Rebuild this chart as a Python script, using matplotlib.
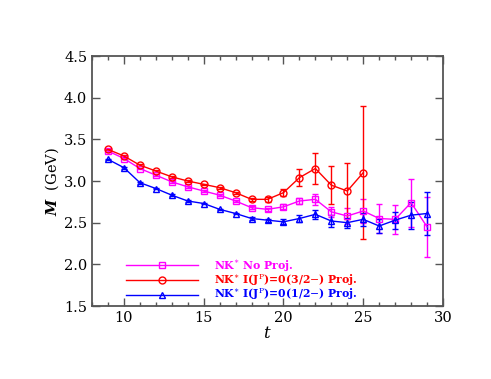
import numpy as np
import matplotlib.pyplot as plt
from matplotlib.ticker import MultipleLocator

t_nop = np.arange(9, 30)
m_nop = [3.36, 3.27, 3.15, 3.07, 2.99, 2.93, 2.88, 2.83, 2.76, 2.68, 2.66,
         2.69, 2.76, 2.78, 2.63, 2.58, 2.64, 2.55, 2.54, 2.74, 2.45]
e_nop = [0.01, 0.01, 0.01, 0.01, 0.01, 0.01, 0.01, 0.01, 0.01, 0.02, 0.02,
         0.03, 0.04, 0.07, 0.06, 0.10, 0.14, 0.17, 0.17, 0.29, 0.36]

t_32 = np.arange(9, 26)
m_32 = [3.38, 3.30, 3.19, 3.12, 3.05, 3.00, 2.96, 2.92, 2.86, 2.78, 2.78,
        2.86, 3.04, 3.15, 2.95, 2.88, 3.10]
e_32 = [0.01, 0.01, 0.01, 0.01, 0.01, 0.01, 0.01, 0.01, 0.01, 0.02, 0.03,
        0.04, 0.10, 0.19, 0.23, 0.34, 0.80]

t_12 = np.arange(9, 30)
m_12 = [3.26, 3.16, 2.98, 2.91, 2.83, 2.76, 2.73, 2.66, 2.61, 2.55, 2.53,
        2.51, 2.55, 2.60, 2.52, 2.50, 2.54, 2.46, 2.53, 2.59, 2.61]
e_12 = [0.01, 0.01, 0.01, 0.01, 0.01, 0.01, 0.01, 0.01, 0.01, 0.02, 0.02,
        0.03, 0.04, 0.05, 0.07, 0.06, 0.08, 0.08, 0.10, 0.16, 0.26]

labels = [r"NK$^{\ast}$ No Proj.",
          r"NK$^{\ast}$ I(J$^{\rm P}$)=0(3/2$-$) Proj.",
          r"NK$^{\ast}$ I(J$^{\rm P}$)=0(1/2$-$) Proj."]
colors = ["#ff00ff", "#ff0000", "#0000ff"]
markers = ["s", "o", "^"]

plt.rcParams['font.family'] = ['DejaVu Serif']
plt.rcParams['mathtext.fontset'] = 'dejavuserif'

fig = plt.figure(figsize=(4.91, 3.79), dpi=100)
ax = fig.add_axes([92 / 491, (379 - 306) / 379, 351 / 491, 250 / 379])

handles = []
for t, m, e, c, mk in zip([t_nop, t_32, t_12], [m_nop, m_32, m_12],
                          [e_nop, e_32, e_12], colors, markers):
    cont = ax.errorbar(t, m, yerr=e, color=c, marker=mk, markersize=5,
                       markerfacecolor='none', markeredgecolor=c, lw=1,
                       elinewidth=1, capsize=2.5)
    handles.append(cont[0])

leg = ax.legend(handles, labels, loc='lower left', bbox_to_anchor=(0.07, -0.025),
                frameon=False, handlelength=6.6, labelspacing=-0.1,
                handletextpad=1.5, labelcolor='linecolor',
                prop={'family': 'DejaVu Serif', 'weight': 'bold', 'size': 7.8})

ax.set_xlim(8, 30)
ax.set_ylim(1.5, 4.5)
ax.xaxis.set_major_locator(MultipleLocator(5))
ax.xaxis.set_minor_locator(MultipleLocator(1))
ax.yaxis.set_major_locator(MultipleLocator(0.5))
ax.yaxis.set_major_formatter(plt.FormatStrFormatter('%.1f'))
ax.tick_params(which='both', direction='in', top=True, right=True,
               color='#555555', labelsize=10.5)
ax.tick_params(which='major', length=6, width=1)
ax.tick_params(which='minor', length=3, width=1)
for s in ax.spines.values():
    s.set_color('#555555')
    s.set_linewidth(1.3)

ax.set_xlabel(r"$t$", fontsize=12, labelpad=0)
ax.set_ylabel(r"$\mathbfit{M}$  (GeV)", fontsize=10.5, labelpad=2)

fig.savefig("out.png", dpi=100)
